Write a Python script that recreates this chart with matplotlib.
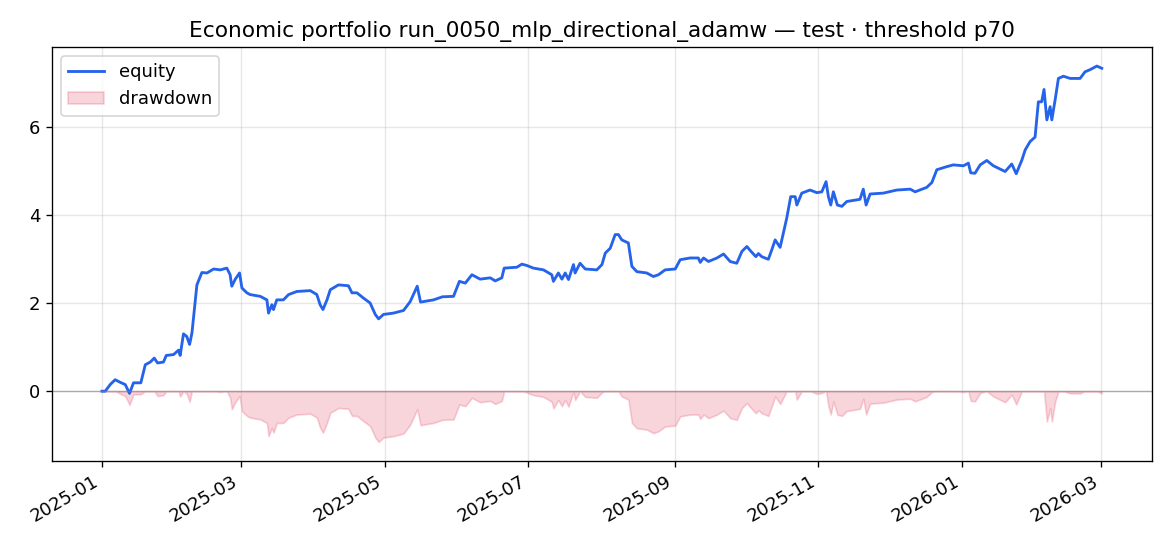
import numpy as np
import pandas as pd
import matplotlib
matplotlib.use("Agg")
import matplotlib.pyplot as plt
import matplotlib.dates as mdates

# equity curve (days since 2025-01-01, equity)
start_date = "2025-01-01"
day_offsets = [
    0, 1.4, 3.5, 5.6, 7.8, 9.9, 11.7, 13.4, 16.5, 18.4, 20.5, 22.2, 23.6, 26.1,
    27.3, 30.4, 32.5, 33.2, 34.6, 36.0, 37.2, 38.2, 39.2, 40.3, 42.4, 44.6,
    47.4, 50.2, 53.0, 54.4, 55.1, 56.6, 58.4, 59.4, 61.5, 62.9, 67.2, 70.0,
    70.7, 72.1, 72.8, 74.2, 77.0, 79.2, 82.7, 88.4, 91.2, 92.6, 93.8, 95.5,
    96.9, 100.4, 104.6, 106.1, 108.2, 111.0, 113.8, 116.0, 117.4, 119.5,
    123.7, 128.0, 130.8, 133.8, 135.2, 140.7, 144.5, 149.2, 151.7, 154.2,
    157.0, 160.5, 164.8, 166.9, 169.7, 170.7, 176.1, 178.2, 180.3, 183.1,
    187.4, 190.9, 191.6, 193.7, 195.2, 196.6, 198.0, 200.1, 200.8, 202.9,
    205.1, 210.0, 212.2, 213.6, 215.7, 217.8, 219.2, 220.6, 223.4, 224.9,
    227.0, 231.2, 234.0, 236.2, 239.0, 243.3, 245.4, 249.6, 253.1, 253.9,
    255.3, 257.4, 261.0, 263.8, 266.6, 269.4, 271.6, 273.7, 275.1, 277.5,
    278.6, 280.0, 282.8, 284.3, 285.7, 287.8, 290.6, 292.3, 294.2, 294.9,
    297.0, 300.5, 303.4, 305.5, 307.3, 308.3, 309.3, 310.4, 312.1, 314.0,
    316.1, 321.7, 323.1, 324.3, 326.0, 331.6, 337.3, 343.0, 345.1, 350.0,
    352.2, 354.3, 358.5, 361.3, 365.6, 367.7, 368.7, 370.5, 372.7, 375.5,
    378.3, 383.3, 386.1, 388.0, 390.4, 391.8, 393.9, 396.0, 397.4, 398.8,
    399.8, 401.0, 402.4, 403.1, 404.5, 405.9, 408.0, 410.9, 415.1, 417.2,
    419.4, 422.2, 424.3,
]
equity = [
    0.0, 0.0, 0.15, 0.26, 0.20, 0.15, -0.05, 0.19, 0.19, 0.60, 0.66, 0.75, 0.64, 0.66,
    0.81, 0.83, 0.93, 0.81, 1.30, 1.24, 1.06, 1.32, 1.85, 2.41, 2.69, 2.68,
    2.77, 2.75, 2.79, 2.64, 2.38, 2.54, 2.68, 2.34, 2.23, 2.19, 2.15, 2.07,
    1.77, 1.96, 1.85, 2.07, 2.07, 2.19, 2.26, 2.28, 2.19, 1.96, 1.85, 2.07,
    2.30, 2.41, 2.39, 2.23, 2.23, 2.11, 2.00, 1.74, 1.64, 1.74,
    1.77, 1.83, 2.03, 2.38, 2.02, 2.07, 2.14, 2.15, 2.49, 2.45,
    2.64, 2.54, 2.57, 2.50, 2.57, 2.79, 2.81, 2.88, 2.85, 2.79,
    2.75, 2.64, 2.49, 2.68, 2.54, 2.68, 2.53, 2.87, 2.68, 2.90,
    2.77, 2.75, 2.87, 3.13, 3.24, 3.55, 3.55, 3.43, 3.36, 2.83,
    2.71, 2.68, 2.60, 2.64, 2.75, 2.77, 2.98, 3.02, 3.02, 2.92,
    3.02, 2.94, 3.02, 3.11, 2.94, 2.90, 3.17, 3.28, 3.19, 3.05,
    3.12, 3.05, 2.99, 3.21, 3.43, 3.26, 3.92, 4.41, 4.41, 4.22,
    4.49, 4.56, 4.50, 4.52, 4.75, 4.41, 4.22, 4.52, 4.22, 4.19,
    4.30, 4.35, 4.58, 4.22, 4.47, 4.49, 4.56, 4.58, 4.52, 4.62,
    4.73, 5.02, 5.09, 5.13, 5.11, 5.17, 4.95, 4.94, 5.13, 5.23,
    5.11, 4.98, 5.15, 4.93, 5.24, 5.47, 5.66, 5.76, 6.56, 6.56,
    6.84, 6.15, 6.45, 6.15, 6.60, 7.09, 7.14, 7.09, 7.09, 7.24,
    7.29, 7.37, 7.32,
]
title = "Economic portfolio run_0050_mlp_directional_adamw \u2014 test \u00b7 threshold p70"

dates = pd.Timestamp(start_date) + pd.to_timedelta(day_offsets, unit="D")
eq = np.array(equity)
drawdown = eq - np.maximum.accumulate(eq)

plt.rcParams["font.size"] = 10.8

fig = plt.figure(figsize=(9.75, 4.55), dpi=120)
ax = fig.add_axes([0.0444, 0.1562, 0.94, 0.7572])

ax.plot(dates, eq, color="#2563eb", lw=1.7, label="equity")
ax.fill_between(dates, drawdown, 0, color="crimson", alpha=0.18, label="drawdown")
ax.axhline(0, color="gray", lw=0.8, alpha=0.6)

ax.set_title(title)
ax.grid(True, alpha=0.3)
ax.legend(loc="upper left")

ax.xaxis.set_major_locator(mdates.MonthLocator(bymonth=[1, 3, 5, 7, 9, 11]))
ax.xaxis.set_major_formatter(mdates.DateFormatter("%Y-%m"))
for lbl in ax.get_xticklabels():
    lbl.set_rotation(30)
    lbl.set_ha("right")

plt.savefig("out.png", dpi=120)
